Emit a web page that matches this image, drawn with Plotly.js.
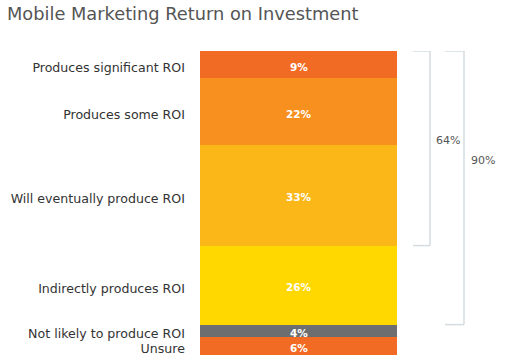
<!DOCTYPE html>
<html>
<head>
<meta charset="utf-8">
<script src="https://cdn.plot.ly/plotly-3.0.1.min.js"></script>
<style>html,body{margin:0;padding:0;background:#fff;}#chart{width:505px;height:364px;}</style>
</head>
<body>
<div id="chart"></div>
<script>
var categories = ["Produces significant ROI", "Produces some ROI", "Will eventually produce ROI", "Indirectly produces ROI", "Not likely to produce ROI", "Unsure"];
var values = [9, 22, 33, 26, 4, 6];
var colors = ["#F26B25", "#F7901E", "#FBB617", "#FFD800", "#6D6E70", "#F26B25"];
var bracketTotals = [64, 90];
var bracketLabels = ["64%", "90%"];

var traces = [];
var mids = [];
var annotations = [];
var cum = 0;
for (var i = 0; i < values.length; i++) {
  var mid = cum + values[i] / 2;
  mids.push(mid);
  cum += values[i];
  traces.push({
    type: "bar",
    x: ["ROI"],
    y: [values[i]],
    name: categories[i],
    marker: {color: colors[i], line: {width: 0}},
    textinfo: "none",
    hoverinfo: "skip"
  });
  annotations.push({
    xref: "x", yref: "y", x: "ROI", y: mid, yshift: -2,
    text: "<b>" + values[i] + "%</b>", showarrow: false,
    xanchor: "center", yanchor: "middle",
    font: {family: "DejaVu Sans, sans-serif", size: 10.5, color: "#ffffff"}
  });
}

var plotLeft = 200, plotW = 197;
function px(p) { return (p - plotLeft) / plotW; }
var bracketColor = "#D3DCE1";
var shapes = [];
var bx = [[413, 430], [445, 464]];
var labelPos = [[434, 0.707], [469, 0.641]];
for (var b = 0; b < bracketTotals.length; b++) {
  var x0 = px(bx[b][0]), x1 = px(bx[b][1]);
  shapes.push({type: "line", xref: "paper", yref: "y", x0: x1, x1: x1, y0: 0, y1: bracketTotals[b], line: {color: bracketColor, width: 1.5}});
  shapes.push({type: "line", xref: "paper", yref: "y", x0: x0, x1: x1, y0: 0, y1: 0, line: {color: bracketColor, width: 1.5}});
  shapes.push({type: "line", xref: "paper", yref: "y", x0: x0, x1: x1, y0: bracketTotals[b], y1: bracketTotals[b], line: {color: bracketColor, width: 1.5}});
  annotations.push({xref: "paper", yref: "paper", x: px(labelPos[b][0]), y: labelPos[b][1], xanchor: "left", yanchor: "middle", text: bracketLabels[b], showarrow: false, font: {family: "DejaVu Sans, sans-serif", size: 11, color: "#555555"}});
}

var layout = {
  width: 505, height: 364,
  margin: {l: 200, r: 108, t: 51, b: 9, pad: 0},
  paper_bgcolor: "#ffffff", plot_bgcolor: "#ffffff",
  showlegend: false,
  barmode: "stack",
  bargap: 0,
  title: {text: "Mobile Marketing Return on Investment", xref: "container", yref: "container", x: 7/505, xanchor: "left", y: 1 - 14/364, yanchor: "middle", font: {family: "DejaVu Sans, sans-serif", size: 17.8, color: "#555555"}},
  xaxis: {visible: false, showgrid: false, zeroline: false, fixedrange: true},
  yaxis: {range: [100, 0], tickvals: mids, ticktext: categories, ticks: "", showgrid: false, zeroline: false, showline: false, ticklabelstandoff: 14, ticklabelshift: -3, tickfont: {family: "DejaVu Sans, sans-serif", size: 12.6, color: "#333333"}, fixedrange: true},
  shapes: shapes,
  annotations: annotations
};

Plotly.newPlot("chart", traces, layout, {displayModeBar: false, staticPlot: true});
</script>
</body>
</html>
